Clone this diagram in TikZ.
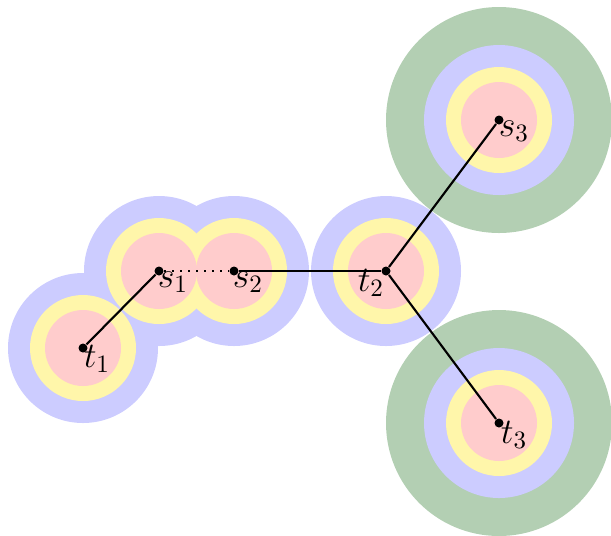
\documentclass[tikz,border=0pt]{standalone}
\begin{document}
\begin{tikzpicture}[x=0.4pt,y=-0.4pt,
  dot/.style={circle,fill=black,inner sep=0pt,minimum size=3.6pt},
  lbl/.style={font=\Large},
  edge/.style={line width=0.85pt}]
\definecolor{cgreen}{RGB}{179,207,179}
\definecolor{cblue}{RGB}{204,204,255}
\definecolor{cyellow}{RGB}{255,246,170}
\definecolor{cpink}{RGB}{255,204,204}
\useasboundingbox (0,0) rectangle (611,535);
\clip (0,0) rectangle (611,535);
\coordinate (T1) at (83,348);
\coordinate (S1) at (159,271);
\coordinate (S2) at (234,271);
\coordinate (T2) at (386,271);
\coordinate (S3) at (499,120);
\coordinate (T3) at (499,423);
% green
\foreach \p in {S3,T3} \fill[cgreen] (\p) circle[radius=113];
% blue
\foreach \p in {T1,S1,S2,T2,S3,T3} \fill[cblue] (\p) circle[radius=75];
% yellow
\foreach \p in {T1,S1,S2,T2,S3,T3} \fill[cyellow] (\p) circle[radius=53];
% pink
\foreach \p in {T1,S1,S2,T2,S3,T3} \fill[cpink] (\p) circle[radius=38];
% nodes
\node[dot] (t1) at (T1) {};
\node[dot] (s1) at (S1) {};
\node[dot] (s2) at (S2) {};
\node[dot] (t2) at (T2) {};
\node[dot] (s3) at (S3) {};
\node[dot] (t3) at (T3) {};
\draw[edge] (t1) -- (s1);
\draw[edge,dash pattern=on 0.85pt off 2.35pt] (s1) -- (s2);
\draw[edge] (s2) -- (t2);
\draw[edge] (t2) -- (s3);
\draw[edge] (t2) -- (t3);
\node[lbl] (lt1) at (97,359) {$t_1$};
\node[lbl] (ls1) at (173,282) {$s_1$};
\node[lbl] (ls2) at (248,282) {$s_2$};
\node[lbl] (lt2) at (371,283) {$t_2$};
\node[lbl] (ls3) at (514,131) {$s_3$};
\node[lbl] (lt3) at (514,435) {$t_3$};
\end{tikzpicture}
\end{document}
